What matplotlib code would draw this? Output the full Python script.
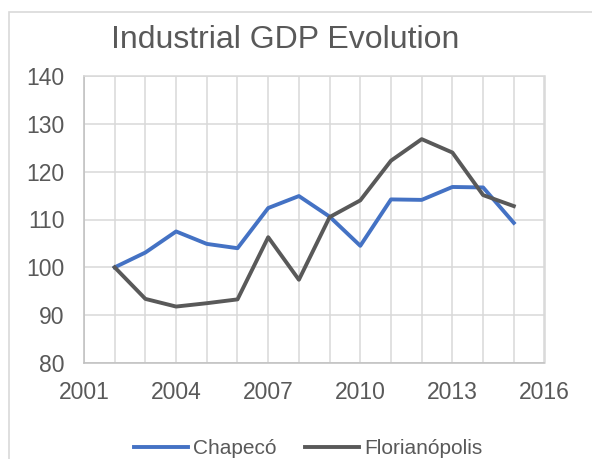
import matplotlib
matplotlib.use("Agg")
import matplotlib.pyplot as plt
from matplotlib.patches import Rectangle

plt.rcParams['font.family'] = ['Liberation Sans', 'DejaVu Sans']

years = list(range(2002, 2016))
chapeco = [100.0, 103.1, 107.5, 104.9, 104.0, 112.4, 114.9, 110.6, 104.5, 114.2, 114.1, 116.8, 116.7, 109.3]
florianopolis = [100.0, 93.4, 91.8, 92.5, 93.3, 106.3, 97.4, 110.5, 114.0, 122.3, 126.8, 124.0, 115.1, 112.8]
series_names = ["Chapecó", "Florianópolis"]
title = "Industrial GDP Evolution"
x_major = [2001, 2004, 2007, 2010, 2013, 2016]
y_ticks = [80, 90, 100, 110, 120, 130, 140]

text_color = "#595959"
grid_color = "#D9D9D9"

fig = plt.figure(figsize=(5.92, 4.59), dpi=100)
ax = fig.add_axes([84/592, 1-363/459, (544.5-84)/592, (363-76)/459])

ax.plot(years, chapeco, color="#4472C4", lw=2.8, label=series_names[0], solid_joinstyle='round', zorder=3)
ax.plot(years, florianopolis, color="#595959", lw=2.8, label=series_names[1], solid_joinstyle='round', zorder=3)

ax.set_xlim(2001, 2016)
ax.set_ylim(80, 140)
ax.set_xticks(x_major)
ax.set_xticks(range(2001, 2017), minor=True)
ax.set_yticks(y_ticks)
ax.grid(True, which='both', color=grid_color, lw=1.1, zorder=0)
ax.set_axisbelow(True)
for s in ax.spines.values():
    s.set_color(grid_color)
    s.set_linewidth(1.1)
ax.spines['bottom'].set_color("#BFBFBF")
ax.spines['left'].set_color("#BFBFBF")
ax.tick_params(which='both', length=0, labelsize=16.5, labelcolor=text_color)
ax.tick_params(axis='y', pad=14)
ax.tick_params(axis='x', pad=13)

fig.text(285/592, 1-40/459, title, ha='center', va='center', fontsize=23, color=text_color)

leg = fig.legend(loc='center', bbox_to_anchor=(308/592, 1-449/459), ncol=2, frameon=False,
                 fontsize=15, handlelength=2.6, handletextpad=0.25, columnspacing=1.35, labelcolor=text_color)

fig.patches.append(Rectangle((9/592, -0.1), 1.2, (459-12)/459 + 0.1, transform=fig.transFigure,
                             fill=False, edgecolor=grid_color, lw=1.2))

fig.savefig("out.png", dpi=100)
